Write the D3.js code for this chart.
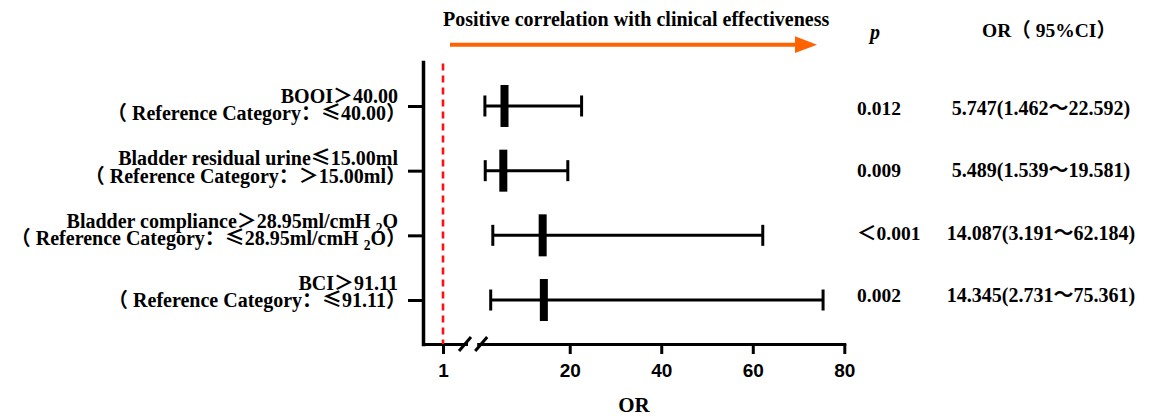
<!DOCTYPE html>
<html>
<head>
<meta charset="utf-8">
<script src="https://cdn.jsdelivr.net/npm/d3@7"></script>
<style>
  body { margin: 0; background: #fff; }
  .serif { font-family: "Liberation Serif", "Times New Roman", "Noto Sans CJK SC", serif; font-weight: bold; }
  .sans { font-family: "Liberation Sans", Arial, sans-serif; font-weight: bold; }
</style>
</head>
<body>
<div id="forest"></div>
<script>
// row labels, two lines each
var labelMain = [
  "BOOI＞40.00",
  "Bladder residual urine≤15.00ml",
  "Bladder compliance＞28.95ml/cmH ₂O",
  "BCI＞91.11"
];
var labelRef = [
  "（ Reference Category：≤40.00）",
  "（ Reference Category：＞15.00ml）",
  "（ Reference Category：≤28.95ml/cmH ₂O）",
  "（ Reference Category：≤91.11）"
];
var orValues = [5.747, 5.489, 14.087, 14.345];
var ciLower = [1.462, 1.539, 3.191, 2.731];
var ciUpper = [22.592, 19.581, 62.184, 75.361];
var pValues = ["0.012", "0.009", "＜0.001", "0.002"];
var xTicksRight = [20, 40, 60, 80];
var xTicksLeft = [1];

var width = 1151, height = 416;
var ORANGE = "#ff6200";

var rows = labelMain.map(function(d, i) {
  return { id: i, main: d, ref: labelRef[i], or: orValues[i], lo: ciLower[i], hi: ciUpper[i], p: pValues[i] };
});
var ids = rows.map(function(d) { return d.id; });

var svg = d3.select("#forest").append("svg")
    .attr("width", width)
    .attr("height", height);

// broken x axis: short segment around 1, then linear 0-80
var xLeft = d3.scaleLinear().domain([0, 2.15]).range([423, 466]);
var xRight = d3.scaleLinear().domain([0, 80]).range([478.2, 844.3]);
var y = d3.scalePoint().domain(ids).range([62, 344]).padding(0.68);
var yBottom = y.range()[1];
// the text table sits on its own, slightly tighter grid
var yText = d3.scalePoint().domain(ids).range([103, 290]);

var fmt = d3.format(".3f");
var WIDE = /[\u2264\uFF00-\uFFEF\u3000-\u303F]/;

// put fullwidth / symbol chars into the CJK font like the original
function addRuns(sel, str, size) {
  var parts = str.split(/([\u2264\uFF00-\uFFEF\u3000-\u303F]|₂)/);
  var shifted = false;
  parts.forEach(function(s) {
    if (s === "") return;
    if (s === "₂") {
      sel.append("tspan").attr("dy", 5).style("font-size", (size * 0.68) + "px").text("2");
      shifted = true;
      return;
    }
    var t = sel.append("tspan").text(s);
    if (shifted) { t.attr("dy", -5); shifted = false; }
    if (WIDE.test(s)) t.style("font-family", "'Noto Sans CJK SC', sans-serif");
  });
}

// anchor by measured length (text-anchor with mixed fonts drifts)
function placeEnd(sel, xEnd) {
  sel.each(function() {
    var w = this.getComputedTextLength();
    d3.select(this).attr("x", xEnd - w);
  });
}
function placeMiddle(sel, xMid) {
  sel.each(function() {
    var w = this.getComputedTextLength();
    d3.select(this).attr("x", xMid - w / 2);
  });
}

// y axis
var yAxis = svg.append("g")
    .attr("transform", "translate(423,0)")
    .call(d3.axisLeft(y).tickSize(15).tickSizeOuter(0).tickFormat(""));
yAxis.select(".domain").attr("stroke-width", 3.5).attr("stroke-linecap", "square");
yAxis.selectAll(".tick line").attr("stroke-width", 3);

// x axis pieces
function styleX(g) {
  g.select(".domain").attr("stroke-width", 3).attr("stroke-linecap", "square");
  g.selectAll(".tick line").attr("stroke-width", 3);
  g.selectAll(".tick text")
      .attr("class", "sans")
      .style("font-size", "19px")
      .attr("fill", "#000");
}
var xAxisL = svg.append("g")
    .attr("transform", "translate(0," + yBottom + ")")
    .call(d3.axisBottom(xLeft).tickValues(xTicksLeft).tickSize(10).tickPadding(9.5).tickSizeOuter(0).tickFormat(d3.format("d")));
styleX(xAxisL);
var xAxisR = svg.append("g")
    .attr("transform", "translate(0," + yBottom + ")")
    .call(d3.axisBottom(xRight).tickValues(xTicksRight).tickSize(10).tickPadding(9.5).tickSizeOuter(0));
styleX(xAxisR);

// the break marks
var breaks = [xLeft.range()[1] - 1, xRight.range()[0] + 3];
svg.selectAll(".brk").data(breaks).enter().append("line")
    .attr("class", "brk")
    .attr("x1", function(d) { return d - 6; })
    .attr("x2", function(d) { return d + 6; })
    .attr("y1", yBottom + 7)
    .attr("y2", yBottom - 7)
    .attr("stroke", "#000")
    .attr("stroke-width", 3);

// reference line at OR = 1
svg.append("line")
    .attr("x1", xLeft(1)).attr("x2", xLeft(1))
    .attr("y1", y.range()[0] + 1.5).attr("y2", yBottom)
    .attr("stroke", "#ff1010")
    .attr("stroke-width", 2.6)
    .attr("stroke-dasharray", "7,5");

// error bars
var bars = svg.selectAll(".row").data(rows).enter().append("g")
    .attr("class", "row")
    .attr("transform", function(d) { return "translate(0," + y(d.id) + ")"; });

bars.append("line")
    .attr("x1", function(d) { return xRight(d.lo); })
    .attr("x2", function(d) { return xRight(d.hi); })
    .attr("stroke", "#000").attr("stroke-width", 3);
bars.selectAll(".cap").data(function(d) { return [d.lo, d.hi]; }).enter().append("line")
    .attr("class", "cap")
    .attr("x1", function(v) { return xRight(v); })
    .attr("x2", function(v) { return xRight(v); })
    .attr("y1", -10.5).attr("y2", 10.5)
    .attr("stroke", "#000").attr("stroke-width", 3);
bars.append("rect")
    .attr("x", function(d) { return xRight(d.or) - 4; })
    .attr("y", -21)
    .attr("width", 8)
    .attr("height", 42)
    .attr("fill", "#000");

// row labels
var lab = svg.selectAll(".lab").data(rows).enter().append("g")
    .attr("class", "lab serif")
    .style("font-size", "20px");
var lab1 = lab.append("text")
    .attr("y", function(d) { return yText(d.id); })
    .each(function(d) { addRuns(d3.select(this), d.main, 20); });
placeEnd(lab1, 398);
var lab2 = lab.append("text")
    .attr("y", function(d) { return yText(d.id) + 17.3; })
    .each(function(d) { addRuns(d3.select(this), d.ref, 20); });
placeEnd(lab2, 406);

// p and OR columns
svg.selectAll(".pval").data(rows).enter().append("text")
    .attr("class", "pval serif")
    .style("font-size", "19.5px")
    .attr("x", 857)
    .attr("y", function(d) { return yText(d.id) + 12; })
    .each(function(d) { addRuns(d3.select(this), d.p, 19.5); });
var orci = svg.selectAll(".orci").data(rows).enter().append("text")
    .attr("class", "orci serif")
    .style("font-size", "20px")
    .attr("y", function(d) { return yText(d.id) + 12; })
    .each(function(d) {
      addRuns(d3.select(this), fmt(d.or) + "(" + fmt(d.lo) + "～" + fmt(d.hi) + ")", 20);
    });
placeMiddle(orci, 1041);

// headers
svg.append("text")
    .attr("class", "serif")
    .style("font-size", "20px")
    .style("font-style", "italic")
    .attr("x", 875).attr("y", 39)
    .attr("text-anchor", "middle")
    .text("p");
var orHead = svg.append("text")
    .attr("class", "serif")
    .style("font-size", "19.5px")
    .attr("y", 37)
    .each(function() { addRuns(d3.select(this), "OR（ 95%CI）", 19.5); });
placeMiddle(orHead, 1049);

// direction arrow
svg.append("text")
    .attr("class", "serif")
    .style("font-size", "20px")
    .attr("x", 443).attr("y", 26)
    .text("Positive correlation with clinical effectiveness");
svg.append("line")
    .attr("x1", 450).attr("x2", 797)
    .attr("y1", 44.7).attr("y2", 44.7)
    .attr("stroke", ORANGE).attr("stroke-width", 4);
svg.append("path")
    .attr("d", "M795,36.3L817,44.7L795,53.1Z")
    .attr("fill", ORANGE);

// x title
svg.append("text")
    .attr("class", "serif")
    .style("font-size", "21px")
    .attr("x", 634).attr("y", 412)
    .attr("text-anchor", "middle")
    .text("OR");
</script>
</body>
</html>
